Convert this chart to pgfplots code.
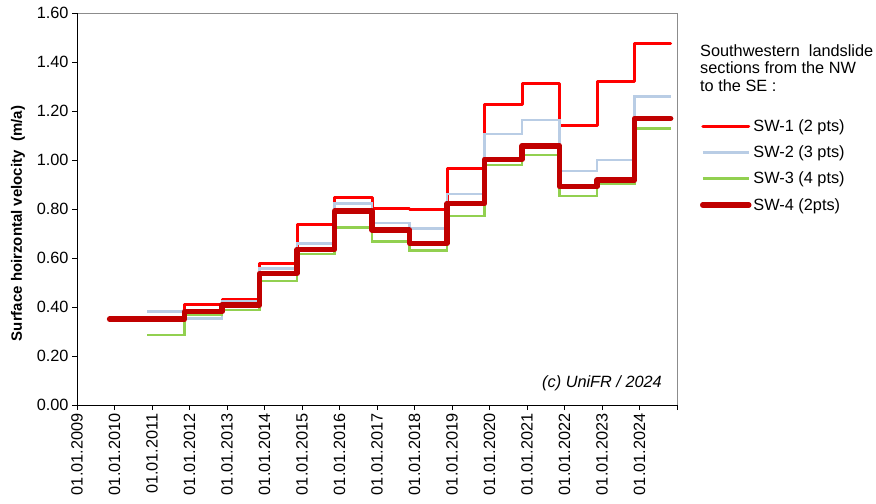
\documentclass[border=0pt]{standalone}
\usepackage{pgfplots}
\pgfplotsset{compat=1.18}
\usepackage{fontspec}
\setmainfont{Liberation Sans}
\definecolor{sw1}{RGB}{255,0,0}
\definecolor{sw2}{RGB}{185,205,229}
\definecolor{sw3}{RGB}{146,208,80}
\definecolor{sw4}{RGB}{192,0,0}
\definecolor{boxgray}{RGB}{140,140,140}
\newcommand{\fs}{\fontsize{16.3bp}{19bp}\selectfont}
\begin{document}
\begin{tikzpicture}
\useasboundingbox (0,0) rectangle (876bp,504bp);
\begin{axis}[
  at={(77bp,99bp)}, anchor=south west,
  scale only axis, width=600bp, height=392bp,
  xmin=2009, xmax=2025, ymin=0, ymax=1.6,
  axis background/.style={draw=boxgray, line width=0.8bp},
  axis x line*=bottom, axis y line*=left,
  axis line style={-, black, line width=0.8bp},
  xtick={2009,...,2025},
  xticklabels={01.01.2009,01.01.2010,01.01.2011,01.01.2012,01.01.2013,01.01.2014,01.01.2015,01.01.2016,01.01.2017,01.01.2018,01.01.2019,01.01.2020,01.01.2021,01.01.2022,01.01.2023,01.01.2024,{}},
  ytick={0,0.2,...,1.6},
  tick align=outside, major tick length=5bp,
  tick style={black, line width=0.8bp},
  yticklabel style={/pgf/number format/.cd, fixed, fixed zerofill, precision=2, assume math mode=true},
  ticklabel style={font=\fs},
  xticklabel style={rotate=90, anchor=east},
  ylabel={\textbf{Surface hoirzontal velocity \ (m/a)}},
  every axis y label/.style={at={(axis description cs:-0.0983,0.463)}, rotate=90, anchor=center, font=\fontsize{15bp}{18bp}\selectfont},
  legend style={at={(1.038,0.734)}, anchor=north west, draw=none, fill=none, font=\fs, row sep=9bp, inner xsep=0pt, inner ysep=0pt},
  legend cell align=left,
  legend image code/.code={\draw[#1] (0bp,0bp) -- (46bp,0bp);},
  /tikz/every even column/.append style={column sep=0bp},
  clip=false,
]
\addplot[const plot mark left, sw1, line width=3bp, line cap=round, line join=round] coordinates {
(2010.87,0.35) (2011.87,0.411) (2012.87,0.431) (2013.87,0.576) (2014.87,0.737) (2015.87,0.846) (2016.87,0.803) (2017.87,0.796) (2018.87,0.966) (2019.87,1.227) (2020.87,1.313) (2021.87,1.139) (2022.87,1.322) (2023.87,1.476) (2024.83,1.476)};
\addlegendentry{SW-1 (2 pts)}
\addplot[const plot mark left, sw2, line width=2.5bp] coordinates {
(2010.87,0.381) (2011.87,0.354) (2012.87,0.422) (2013.87,0.558) (2014.87,0.660) (2015.87,0.823) (2016.87,0.742) (2017.87,0.720) (2018.87,0.861) (2019.87,1.106) (2020.87,1.163) (2021.87,0.956) (2022.87,1.000) (2023.87,1.259) (2024.83,1.259)};
\addlegendentry{SW-2 (3 pts)}
\addplot[const plot mark left, sw3, line width=2.5bp] coordinates {
(2010.87,0.286) (2011.87,0.367) (2012.87,0.388) (2013.87,0.506) (2014.87,0.616) (2015.87,0.725) (2016.87,0.667) (2017.87,0.630) (2018.87,0.771) (2019.87,0.980) (2020.87,1.020) (2021.87,0.853) (2022.87,0.902) (2023.87,1.129) (2024.83,1.129)};
\addlegendentry{SW-3 (4 pts)}
\addplot[const plot mark left, sw4, line width=5.5bp, line cap=round, line join=round] coordinates {
(2009.87,0.350) (2010.87,0.350) (2011.87,0.381) (2012.87,0.408) (2013.87,0.537) (2014.87,0.635) (2015.87,0.792) (2016.87,0.714) (2017.87,0.660) (2018.87,0.823) (2019.87,1.003) (2020.87,1.058) (2021.87,0.891) (2022.87,0.918) (2023.87,1.170) (2024.83,1.170)};
\addlegendentry{SW-4 (2pts)}
\node[anchor=east, font=\fs\itshape, inner sep=0pt] at (rel axis cs:0.975,0.056) {(c) UniFR / 2024};
\end{axis}
\node[anchor=north west, inner sep=0pt, align=left, font=\fontsize{16.3bp}{17.5bp}\selectfont] at (700bp,460bp) {Southwestern \ landslide\\sections from the NW\\to the SE :};
\end{tikzpicture}
\end{document}
